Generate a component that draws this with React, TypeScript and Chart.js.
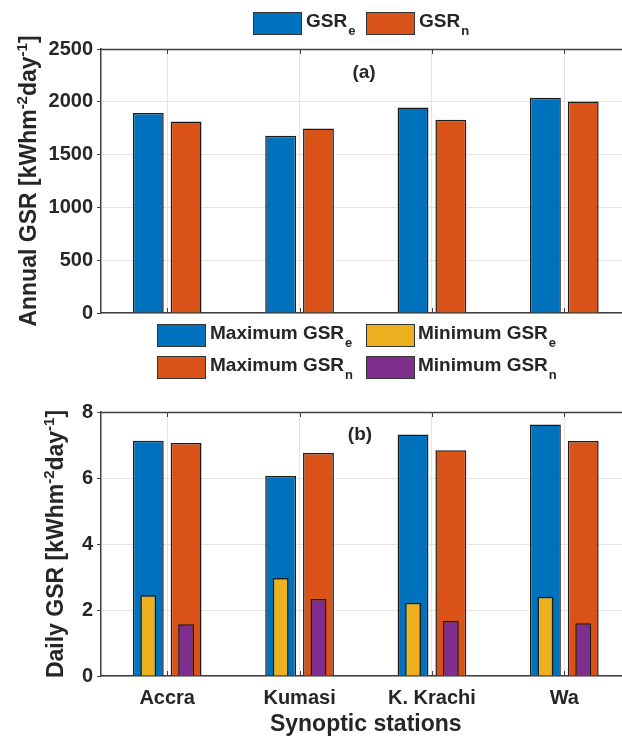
import React, { useEffect, useRef } from 'react';
import { Chart, registerables } from 'chart.js';

Chart.register(...registerables);

// ---------- data ----------
const stations = ['Accra', 'Kumasi', 'K. Krachi', 'Wa'];

const annualEstimated = [1894, 1679, 1947, 2039];
const annualMeasured = [1814, 1748, 1831, 2004];
const annualTicks = [0, 500, 1000, 1500, 2000, 2500];
const annualLegend = ['GSR', 'GSR'];
const annualLegendSub = ['e', 'n'];

const dailyMaxEstimated = [7.13, 6.06, 7.32, 7.62];
const dailyMaxMeasured = [7.06, 6.76, 6.84, 7.12];
const dailyMinEstimated = [2.45, 2.97, 2.22, 2.4];
const dailyMinMeasured = [1.57, 2.33, 1.67, 1.6];
const dailyTicks = [0, 2, 4, 6, 8];
const dailyLegend = ['Maximum GSR', 'Minimum GSR', 'Maximum GSR', 'Minimum GSR'];
const dailyLegendSub = ['e', 'e', 'n', 'n'];

const annualTitle = [
  { t: 'Annual GSR [kWhm' },
  { t: '-2', sup: true },
  { t: 'day' },
  { t: '-1', sup: true },
  { t: ']' },
];
const dailyTitle = [
  { t: 'Daily GSR [kWhm' },
  { t: '-2', sup: true },
  { t: 'day' },
  { t: '-1', sup: true },
  { t: ']' },
];

// ---------- style ----------
const FONT = '"Liberation Sans", Arial, Helvetica, sans-serif';
const INK = '#262626';
const AXIS = '#404040';
const GRID = '#e4e4e4';
const EDGE = '#1c1c1c';
const BLUE = '#0072BD';
const ORANGE = '#D95319';
const YELLOW = '#EDB120';
const PURPLE = '#7E2F8E';
const BAR_EDGE_W = 1.5;

type Part = { t: string; sup?: boolean };

function drawRotatedTitle(
  ctx: CanvasRenderingContext2D,
  parts: Part[],
  baselineX: number,
  centerY: number,
  size: number,
  supSize: number,
  supRaise: number
) {
  ctx.save();
  const main = `bold ${size}px ${FONT}`;
  const sup = `bold ${supSize}px ${FONT}`;
  let total = 0;
  const widths = parts.map((p) => {
    ctx.font = p.sup ? sup : main;
    const w = ctx.measureText(p.t).width;
    total += w;
    return w;
  });
  ctx.translate(baselineX, centerY);
  ctx.rotate(-Math.PI / 2);
  ctx.fillStyle = INK;
  ctx.textBaseline = 'alphabetic';
  ctx.textAlign = 'left';
  let x = -total / 2;
  parts.forEach((p, i) => {
    ctx.font = p.sup ? sup : main;
    ctx.fillText(p.t, x, p.sup ? -supRaise : 0);
    x += widths[i];
  });
  ctx.restore();
}

function drawLegendItem(
  ctx: CanvasRenderingContext2D,
  boxX: number,
  boxY: number,
  color: string,
  label: string,
  sub: string,
  textX: number,
  baseline: number
) {
  ctx.save();
  ctx.fillStyle = color;
  ctx.fillRect(boxX, boxY, 49, 23);
  ctx.strokeStyle = '#333333';
  ctx.lineWidth = 1;
  ctx.strokeRect(boxX + 0.5, boxY + 0.5, 48, 22);
  ctx.fillStyle = INK;
  ctx.textAlign = 'left';
  ctx.textBaseline = 'alphabetic';
  ctx.font = `bold 19px ${FONT}`;
  ctx.fillText(label, textX, baseline);
  const w = ctx.measureText(label).width;
  ctx.font = `bold 13px ${FONT}`;
  ctx.fillText(sub, textX + w + 1, baseline + 8);
  ctx.restore();
}

function frameDecor(chart: any) {
  const ctx: CanvasRenderingContext2D = chart.ctx;
  const { left, right, top, bottom } = chart.chartArea;
  ctx.save();
  ctx.strokeStyle = AXIS;
  ctx.lineWidth = 1.5;
  ctx.beginPath();
  ctx.moveTo(left, top + 0.5);
  ctx.lineTo(right, top + 0.5);
  ctx.stroke();
  ctx.lineWidth = 1;
  const xs = chart.scales.x;
  stations.forEach((_, i) => {
    const px = Math.round(xs.getPixelForValue(i)) + 0.5;
    ctx.beginPath();
    ctx.moveTo(px, top);
    ctx.lineTo(px, top + 5);
    ctx.moveTo(px, bottom);
    ctx.lineTo(px, bottom - 5);
    ctx.stroke();
  });
  ctx.restore();
}

function panelLabel(ctx: CanvasRenderingContext2D, text: string, x: number, y: number) {
  ctx.save();
  ctx.font = `bold 19px ${FONT}`;
  ctx.fillStyle = INK;
  ctx.textAlign = 'center';
  ctx.textBaseline = 'middle';
  ctx.fillText(text, x, y);
  ctx.restore();
}

const tickFont = { family: FONT, size: 20, weight: 'bold' as const };

export default function App() {
  const topRef = useRef<HTMLCanvasElement>(null);
  const botRef = useRef<HTMLCanvasElement>(null);

  useEffect(() => {
    const topDecor = {
      id: 'topDecor',
      afterDraw(chart: any) {
        const ctx = chart.ctx as CanvasRenderingContext2D;
        frameDecor(chart);
        panelLabel(ctx, '(a)', 364, 73);
        const { top, bottom } = chart.chartArea;
        drawRotatedTitle(ctx, annualTitle, 36, (top + bottom) / 2, 23, 15, 9);
        drawLegendItem(ctx, 253, 12, BLUE, annualLegend[0], annualLegendSub[0], 306, 27);
        drawLegendItem(ctx, 366, 12, ORANGE, annualLegend[1], annualLegendSub[1], 419, 27);
      },
    };

    const botDecor = {
      id: 'botDecor',
      afterDraw(chart: any) {
        const ctx = chart.ctx as CanvasRenderingContext2D;
        frameDecor(chart);
        panelLabel(ctx, '(b)', 360, 115);
        const { top, bottom } = chart.chartArea;
        drawRotatedTitle(ctx, dailyTitle, 63, (top + bottom) / 2, 23, 15, 9);
        const colors = [BLUE, YELLOW, ORANGE, PURPLE];
        const boxX = [157, 366, 157, 366];
        const textX = [210, 418, 210, 418];
        const boxY = [4, 4, 36, 36];
        const base = [19, 19, 51, 51];
        dailyLegend.forEach((lab, i) => {
          drawLegendItem(ctx, boxX[i], boxY[i], colors[i], lab, dailyLegendSub[i], textX[i], base[i]);
        });
      },
    };

    const yCommon = (ticks: number[], min: number, max: number) => ({
      min,
      max,
      stacked: false,
      afterBuildTicks: (s: any) => {
        s.ticks = ticks.map((v) => ({ value: v }));
      },
      afterFit: (s: any) => {
        s.width = 101;
      },
      grid: { color: GRID, tickColor: AXIS, tickLength: 4, drawTicks: true },
      border: { color: AXIS, width: 1.5 },
      ticks: {
        font: tickFont,
        color: INK,
        padding: 4,
        callback: (v: any) => String(v),
      },
    });

    const bar = (data: number[], color: string, barPct: number, extra: any = {}) => ({
      data,
      backgroundColor: color,
      borderColor: EDGE,
      borderWidth: BAR_EDGE_W,
      categoryPercentage: 0.5714,
      barPercentage: barPct,
      ...extra,
    });

    const top = new Chart(topRef.current!, {
      type: 'bar',
      data: {
        labels: stations,
        datasets: [
          { label: 'GSRe', ...bar(annualEstimated, BLUE, 0.816) },
          { label: 'GSRn', ...bar(annualMeasured, ORANGE, 0.816) },
        ],
      },
      options: {
        responsive: false,
        animation: false,
        layout: { padding: { left: 0, top: 49, right: 49.5, bottom: 0 } },
        plugins: { legend: { display: false }, tooltip: { enabled: false } },
        scales: {
          x: {
            type: 'category',
            offset: true,
            afterFit: (s: any) => {
              s.height = 87;
            },
            grid: { color: GRID, offset: false, drawTicks: false },
            border: { color: AXIS, width: 1.5 },
            ticks: { display: false },
          },
          y: yCommon(annualTicks, 0, 2500) as any,
        },
      },
      plugins: [topDecor],
    });

    const bot = new Chart(botRef.current!, {
      type: 'bar',
      data: {
        labels: stations,
        datasets: [
          { label: 'Maximum GSRe', ...bar(dailyMaxEstimated, BLUE, 0.816, { stack: 'e', order: 1 }) },
          { label: 'Maximum GSRn', ...bar(dailyMaxMeasured, ORANGE, 0.816, { stack: 'n', order: 1 }) },
          { label: 'Minimum GSRe', ...bar(dailyMinEstimated, YELLOW, 0.42, { stack: 'e', order: 0 }) },
          { label: 'Minimum GSRn', ...bar(dailyMinMeasured, PURPLE, 0.42, { stack: 'n', order: 0 }) },
        ],
      },
      options: {
        responsive: false,
        animation: false,
        layout: { padding: { left: 0, top: 92, right: 49.5, bottom: 0 } },
        plugins: { legend: { display: false }, tooltip: { enabled: false } },
        scales: {
          x: {
            type: 'category',
            position: 'bottom',
            offset: true,
            afterFit: (s: any) => {
              s.height = 63;
            },
            grid: { color: GRID, offset: false, drawTicks: false },
            border: { color: AXIS, width: 1.5 },
            ticks: { font: tickFont, color: INK, padding: 10, maxRotation: 0, autoSkip: false },
            title: {
              display: true,
              text: 'Synoptic stations',
              color: INK,
              font: { family: FONT, size: 23, weight: 'bold' },
              padding: { top: 0, bottom: 1 },
            },
          },
          y: yCommon(dailyTicks, 0, 8) as any,
        },
      },
      plugins: [botDecor],
    });

    return () => {
      top.destroy();
      bot.destroy();
    };
  }, []);

  return (
    <div
      style={{
        position: 'absolute',
        left: 0,
        top: 0,
        width: 622,
        height: 739,
        overflow: 'hidden',
        background: '#ffffff',
      }}
    >
      <canvas
        ref={topRef}
        width={680}
        height={400}
        style={{ position: 'absolute', left: 0, top: 0, width: 680, height: 400 }}
      />
      <canvas
        ref={botRef}
        width={680}
        height={419}
        style={{ position: 'absolute', left: 0, top: 320, width: 680, height: 419 }}
      />
    </div>
  );
}
